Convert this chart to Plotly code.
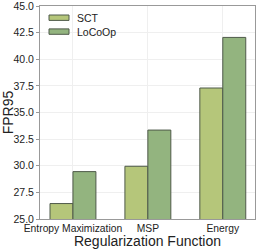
import plotly.graph_objects as go

categories = ["Entropy Maximization", "MSP", "Energy"]
sct_values = [26.45, 29.95, 37.3]
locoop_values = [29.45, 33.35, 42.05]
series_names = ["SCT", "LoCoOp"]
y_ticks = [25.0, 27.5, 30.0, 32.5, 35.0, 37.5, 40.0, 42.5, 45.0]

sct_color = "#b5c67a"
locoop_color = "#93b47f"
edge = "#4f5a4a"
font_family = "Liberation Sans, Arial, sans-serif"

fig = go.Figure()
fig.add_trace(go.Bar(x=categories, y=sct_values, name=series_names[0],
                     marker=dict(color=sct_color, line=dict(color=edge, width=1)),
                     showlegend=False))
fig.add_trace(go.Bar(x=categories, y=locoop_values, name=series_names[1],
                     marker=dict(color=locoop_color, line=dict(color=edge, width=1)),
                     showlegend=False))

# manual legend
W, H, L, T = 215.0, 213.0, 40.0, 6.0
def px(x):
    return (x - L) / W
def py(y):
    return (T + H - y) / H

legend_rows = [(series_names[0], sct_color, 17.7), (series_names[1], locoop_color, 31.6)]
for name, col, yc in legend_rows:
    fig.add_shape(type="rect", xref="paper", yref="paper",
                  x0=px(49), x1=px(69), y0=py(yc + 2.7), y1=py(yc - 2.7),
                  fillcolor=col, line=dict(color=edge, width=1))
    fig.add_annotation(xref="paper", yref="paper", x=px(75), y=py(yc),
                       xanchor="left", yanchor="middle", text=name, showarrow=False,
                       font=dict(size=10.5, color="#222", family=font_family))

fig.update_layout(
    width=258, height=249,
    margin=dict(l=40, r=3, t=6, b=30, autoexpand=False),
    barmode="group", bargap=0.387, bargroupgap=0,
    plot_bgcolor="white", paper_bgcolor="white",
    font=dict(family=font_family, size=10, color="#222"),
    xaxis=dict(range=[-0.44, 2.43], showgrid=True, gridcolor="#efefef", gridwidth=1,
               showline=True, linecolor="#999", linewidth=1, mirror=True,
               ticks="", tickfont=dict(size=10.3, color="#222"), automargin=False,
               tickangle=0,
               title=dict(text="Regularization Function", font=dict(size=14, color="#222"), standoff=4)),
    yaxis=dict(range=[25, 45], tickvals=y_ticks, ticktext=[f"{v:.1f}" for v in y_ticks],
               showgrid=True, gridcolor="#efefef", gridwidth=1,
               showline=True, linecolor="#999", linewidth=1, mirror=True,
               ticks="outside", ticklen=3, tickcolor="#999", tickfont=dict(size=10.5, color="#222"),
               ticklabeloverflow="allow", automargin=False,
               title=dict(text="FPR95", font=dict(size=14, color="#222"), standoff=1),
               zeroline=False),
)

fig.write_html("out.html", config={"displayModeBar": False},
               post_script="document.body.style.margin='0';document.body.style.padding='0';")
